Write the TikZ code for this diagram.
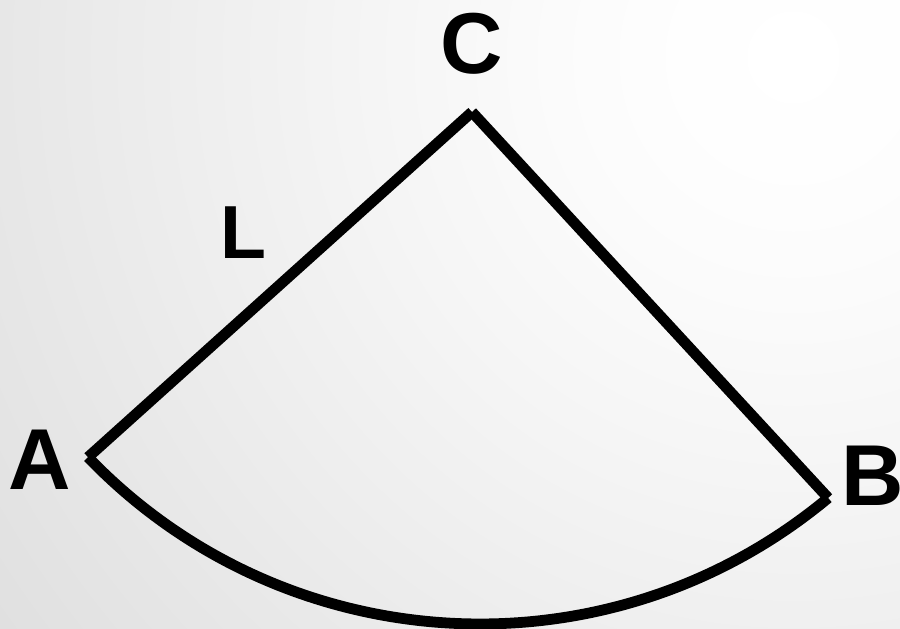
\documentclass[tikz,border=0pt]{standalone}
\usepackage{fontspec}
\setmainfont{Liberation Sans}
\usetikzlibrary{calc}
\pgfdeclareradialshading{bgshade}{\pgfpoint{0bp}{0bp}}{color(0bp)=(white); color(3bp)=(black!0.5); color(6bp)=(black!1.5); color(10bp)=(black!3.5); color(15.3bp)=(black!6.5); color(25.5bp)=(black!12.5); color(32.2bp)=(black!17); color(40.8bp)=(black!22); color(50bp)=(black!30)}
\tikzset{
  edge/.style={line width=0.108cm, black},
  lbl/.style={font=\bfseries, anchor=base, inner sep=0pt, text=black}
}
\begin{document}
\begin{tikzpicture}
\useasboundingbox (0,0) rectangle (9,6.28);
\begin{scope}
  \clip (0,0) rectangle (9,6.28);
  \shade[shading=bgshade] (7.93,5.71) circle (9.8cm);
\end{scope}
\coordinate (O) at (4.80,5.48);
\coordinate (C) at (4.72,5.16);
\coordinate (A) at ($(O)+(223.9:5.44)$);
\coordinate (B) at ($(O)+(309.8:5.44)$);
\draw[edge] (C) -- (A);
\draw[edge] (C) -- (B);
\draw[edge] (A) arc[start angle=223.9, end angle=309.8, radius=5.44];
\node[lbl, font=\fontsize{24.6}{28}\selectfont\bfseries] (lC) at (4.72,5.55) {C};
\node[lbl, font=\fontsize{24.6}{28}\selectfont\bfseries] (lA) at (0.40,1.39) {A};
\node[lbl, font=\fontsize{24.6}{28}\selectfont\bfseries] (lB) at (8.73,1.23) {B};
\node[lbl, font=\fontsize{21.4}{25}\selectfont\bfseries] (lL) at (2.43,3.70) {L};
\end{tikzpicture}
\end{document}
